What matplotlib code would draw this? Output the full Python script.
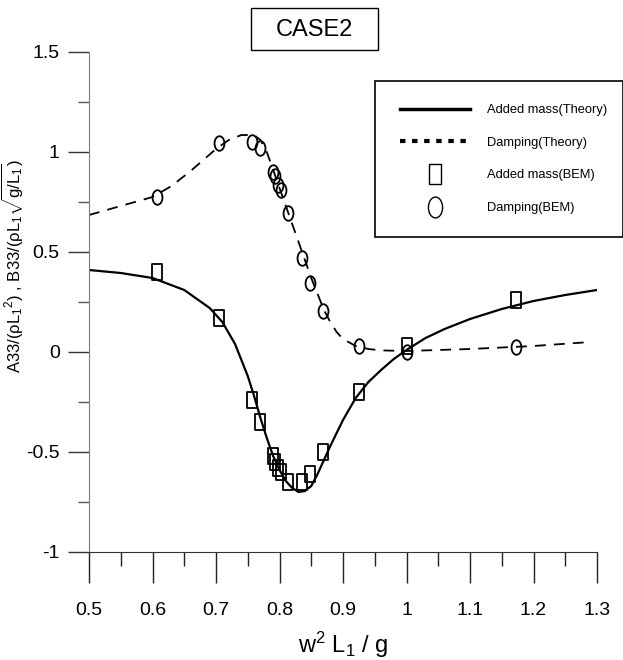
import matplotlib
matplotlib.use("Agg")
import matplotlib.pyplot as plt
from matplotlib.lines import Line2D
from matplotlib.patches import Rectangle
from matplotlib.path import Path
import matplotlib.ticker as ticker

plt.rcParams["font.family"] = ["Liberation Sans Narrow", "Liberation Sans", "DejaVu Sans"]
plt.rcParams["mathtext.fontset"] = "custom"
plt.rcParams["mathtext.rm"] = "Liberation Sans"
plt.rcParams["mathtext.it"] = "Liberation Sans"
plt.rcParams["mathtext.default"] = "regular"

# Theory curves
am_theory_x = [0.50, 0.55, 0.60, 0.65, 0.69, 0.71, 0.73, 0.75, 0.76, 0.77, 0.78, 0.79,
               0.80, 0.81, 0.82, 0.83, 0.84, 0.85, 0.86, 0.87, 0.88, 0.90, 0.92, 0.94,
               0.96, 0.98, 1.00, 1.03, 1.06, 1.10, 1.15, 1.20, 1.25, 1.30]
added_mass_theory = [0.41, 0.395, 0.37, 0.31, 0.22, 0.15, 0.04, -0.12, -0.22, -0.33, -0.43, -0.52,
                     -0.59, -0.645, -0.68, -0.70, -0.695, -0.67, -0.61, -0.54, -0.47, -0.34, -0.23, -0.15,
                     -0.09, -0.035, 0.01, 0.07, 0.115, 0.165, 0.215, 0.255, 0.285, 0.31]
dp_theory_x = [0.50, 0.55, 0.60, 0.63, 0.66, 0.68, 0.70, 0.72, 0.74, 0.76, 0.77, 0.78, 0.79,
               0.80, 0.81, 0.82, 0.83, 0.84, 0.85, 0.86, 0.87, 0.88, 0.89, 0.90, 0.92,
               0.94, 0.96, 1.00, 1.10, 1.20, 1.29]
damping_theory = [0.685, 0.73, 0.775, 0.83, 0.905, 0.96, 1.015, 1.06, 1.085, 1.085, 1.06, 1.00, 0.91,
                  0.82, 0.73, 0.64, 0.55, 0.46, 0.37, 0.29, 0.21, 0.15, 0.10, 0.065, 0.03,
                  0.015, 0.008, 0.005, 0.015, 0.03, 0.05]

# BEM results
bem_x = [0.607, 0.705, 0.757, 0.769, 0.790, 0.793, 0.798, 0.802, 0.813,
         0.835, 0.848, 0.868, 0.925, 1.000, 1.172]
added_mass_bem = [0.40, 0.17, -0.24, -0.35, -0.52, -0.55, -0.58, -0.60, -0.65,
                  -0.65, -0.61, -0.50, -0.20, 0.03, 0.26]
damping_bem = [0.775, 1.045, 1.05, 1.02, 0.90, 0.88, 0.835, 0.81, 0.695,
               0.47, 0.345, 0.205, 0.03, 0.0, 0.025]

# tall, narrow markers like the original plotting software
rect_marker = Path([(-0.62, -1), (0.62, -1), (0.62, 1), (-0.62, 1), (-0.62, -1)],
                   [Path.MOVETO, Path.LINETO, Path.LINETO, Path.LINETO, Path.CLOSEPOLY])
ell = Path.unit_circle()
ell_marker = Path(ell.vertices * [0.68, 1.0], ell.codes)

W, H = 623, 660
fig = plt.figure(figsize=(W / 100, H / 100), dpi=100)
ax = fig.add_axes([89 / W, 1 - 552 / H, (597 - 89) / W, (552 - 52) / H])

dash = (0, (6, 4.5))
ax.plot(am_theory_x, added_mass_theory, color="black", lw=1.6)
ax.plot(dp_theory_x, damping_theory, color="black", lw=1.3, linestyle=dash)
ax.plot(bem_x, added_mass_bem, marker=rect_marker, ls="none", ms=11, mfc="none", mec="black", mew=1.3)
ax.plot(bem_x, damping_bem, marker=ell_marker, ls="none", ms=10.5, mfc="none", mec="black", mew=1.3)

ax.set_xlim(0.5, 1.3)
ax.set_ylim(-1, 1.5)
ax.xaxis.set_major_locator(ticker.MultipleLocator(0.1))
ax.xaxis.set_minor_locator(ticker.MultipleLocator(0.05))
ax.yaxis.set_major_locator(ticker.MultipleLocator(0.5))
ax.yaxis.set_minor_locator(ticker.MultipleLocator(0.25))
ax.xaxis.set_major_formatter(ticker.FuncFormatter(lambda v, _: f"{v:g}"))
ax.yaxis.set_major_formatter(ticker.FuncFormatter(lambda v, _: f"{v:g}"))

ax.tick_params(axis="x", which="major", length=22, width=1, direction="out", pad=14,
               labelsize=14, color="#222222")
ax.tick_params(axis="x", which="minor", length=10, width=1, direction="out", color="#222222")
ax.tick_params(axis="y", which="major", length=15, width=1, direction="out", pad=6,
               labelsize=14, color="#333333")
ax.tick_params(axis="y", which="minor", length=8, width=1, direction="out", color="#555555")
ax.spines["top"].set_visible(False)
ax.spines["right"].set_visible(False)
ax.spines["left"].set_color("#7a7a7a")
ax.spines["bottom"].set_color("#333333")

ax.set_xlabel(r"w$^2$ L$_1$ / g", fontsize=17, family=["Liberation Sans"])
ax.xaxis.set_label_coords((343 - 89) / 508, -(630 - 552) / 500)
ax.set_ylabel(r"A33/($\rho$L$_1$$^2$) , B33/($\rho$L$_1\sqrt{g/L_1}$)",
              fontsize=12, family=["Liberation Sans"])
ax.yaxis.set_label_coords(-(89 - 26) / 508, (552 - 266) / 500)

# title box
fig.patches.append(Rectangle((251 / W, 1 - 50 / H), (378 - 251) / W, 42 / H,
                             transform=fig.transFigure, fill=False, ec="black", lw=1))
fig.text(314 / W, 1 - 30 / H, "CASE2", ha="center", va="center", fontsize=17,
         family=["Liberation Sans"])

# legend box
fig.patches.append(Rectangle((375 / W, 1 - 237 / H), (W - 375) / W, (237 - 81) / H,
                             transform=fig.transFigure, fill=False, ec="black", lw=1.2))
handles = [
    Line2D([], [], color="black", lw=2.5),
    Line2D([], [], color="black", lw=3, linestyle=(0, (1.3, 1.6))),
    Line2D([], [], marker=rect_marker, ms=15, mfc="none", mec="black", mew=1, ls="none"),
    Line2D([], [], marker=ell_marker, ms=15, mfc="none", mec="black", mew=1, ls="none"),
]
labels = ["Added mass(Theory)", "Damping(Theory)", "Added mass(BEM)", "Damping(BEM)"]
fig.legend(handles, labels, loc="upper left", bbox_to_anchor=(400 / W, 1 - 104 / H),
           frameon=False, fontsize=9.3, handlelength=5.4, handletextpad=1.3,
           labelspacing=1.6, borderaxespad=0, borderpad=0)

fig.savefig("out.png", dpi=100)
